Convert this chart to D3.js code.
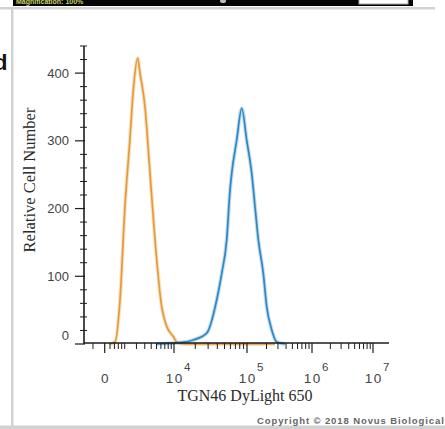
<!DOCTYPE html>
<html>
<head>
<meta charset="utf-8">
<script src="https://cdn.jsdelivr.net/npm/d3@7"></script>
<style>
  html, body { margin: 0; padding: 0; background: #fff; }
  svg { display: block; }
</style>
</head>
<body>
<script>
// isotype control histogram (orange)
var isotypeIntensity = [200, 428, 698, 1012, 1388, 1691, 2133, 2392, 3033, 3795, 4699, 6186, 7544, 9735, 10940, 14000, 270000];
var isotypeCount = [0, 3, 65, 202, 301, 375, 422, 400, 350, 252, 154, 55, 26, 11, 3, 0, 0];

// TGN46 DyLight 650 stained histogram (blue)
var stainedIntensity = [5000, 12000, 18770, 28710, 39240, 45850, 53540, 59290, 62480, 72890, 85030, 99100, 118200, 132900, 149500, 178600, 201500, 240400, 287000, 384000];
var stainedCount = [0, 2, 6, 16, 65, 104, 154, 227, 252, 301, 348, 301, 252, 203, 154, 104, 55, 21, 3, 0];

var yMajorTicks = [0, 100, 200, 300, 400];
var yMinorTicks = d3.range(20, 441, 20).filter(d => d % 100 !== 0);
var xMajorTicks = [0, 1e4, 1e5, 1e6, 1e7];
var xExponents = ["", "4", "5", "6", "7"];
var xMinorTicks = [-500, 200, 400, 600, 800, 1000, 2000, 3000, 4000, 5000, 6000, 7000, 8000, 9000]
  .concat(d3.merge([1e4, 1e5, 1e6].map(p => d3.range(2, 10).map(k => k * p))));

var width = 445, height = 429;

var svg = d3.select("body").append("svg")
  .attr("width", width)
  .attr("height", height)
  .style("background", "#fff");

//// screenshot frame around the figure
svg.append("rect").attr("x", 13).attr("y", 0).attr("width", 400).attr("height", 6).attr("fill", "#050505");
svg.append("text").attr("x", 16).attr("y", 4)
  .attr("font-family", "Arial, 'Liberation Sans', sans-serif").attr("font-size", 7).attr("font-weight", "bold")
  .attr("fill", "#c9d36a").text("Magnification: 100%");
svg.append("ellipse").attr("cx", 223).attr("cy", 1).attr("rx", 3).attr("ry", 2).attr("fill", "#bbb");
svg.append("rect").attr("x", 359).attr("y", -2).attr("width", 49).attr("height", 6)
  .attr("fill", "#fff").attr("stroke", "#aaa");
svg.append("rect").attr("x", 0).attr("y", 7).attr("width", 435).attr("height", 2.5).attr("fill", "#d2d2d2");
svg.append("rect").attr("x", 11).attr("y", 9).attr("width", 2.5).attr("height", 420).attr("fill", "#d2d2d2");
svg.append("rect").attr("x", 0).attr("y", 425.5).attr("width", width).attr("height", 3.5).attr("fill", "#d2d2d2");
svg.append("text").attr("x", -6).attr("y", 70)
  .attr("font-family", "Arial, 'Liberation Sans', sans-serif").attr("font-size", 22).attr("font-weight", "bold")
  .attr("fill", "#111").text("d");

//// scales: biexponential-like x axis (symlog, piecewise per decade)
var x = d3.scaleSymlog()
  .constant(1000)
  .domain(xMajorTicks)
  .range([104.7, 174, 247, 312, 373]);

var y = d3.scaleLinear()
  .domain([0, 440])
  .range([344, 46]);

var axisLeftX = 84, axisRightX = 389, axisY = 343;
var axisColor = "#1c1c1c";
var labelFont = "Arial, 'Liberation Sans', sans-serif";
var titleFont = "'Times New Roman', 'Liberation Serif', serif";

//// histograms
var line = d3.line()
  .x(d => x(d[0]))
  .y(d => y(d[1]))
  .curve(d3.curveMonotoneX);

var series = [
  { color: "#e59b3b", pts: d3.zip(isotypeIntensity, isotypeCount) },
  { color: "#2f87c5", pts: d3.zip(stainedIntensity, stainedCount) },
];

var curves = svg.append("g").attr("class", "curves");
series.forEach(s => {
  curves.append("path")
    .attr("d", line(s.pts))
    .attr("fill", "none")
    .attr("stroke", s.color)
    .attr("stroke-opacity", 0.3)
    .attr("stroke-width", 3.8);
  curves.append("path")
    .attr("d", line(s.pts))
    .attr("fill", "none")
    .attr("stroke", s.color)
    .attr("stroke-width", 1.7)
    .attr("stroke-linejoin", "round");
});

//// y axis
var yAxis = svg.append("g").attr("class", "y-axis");
yAxis.append("line")
  .attr("x1", axisLeftX).attr("x2", axisLeftX)
  .attr("y1", y(440)).attr("y2", y(0))
  .attr("stroke", axisColor).attr("stroke-width", 1.6);

yAxis.selectAll(".major").data(yMajorTicks).join("line")
  .attr("class", "major")
  .attr("x1", axisLeftX - 9).attr("x2", axisLeftX + 1)
  .attr("y1", d => y(d)).attr("y2", d => y(d))
  .attr("stroke", axisColor).attr("stroke-width", 1.2);

yAxis.selectAll(".minor").data(yMinorTicks).join("line")
  .attr("class", "minor")
  .attr("x1", axisLeftX - 4).attr("x2", axisLeftX + 3)
  .attr("y1", d => y(d)).attr("y2", d => y(d))
  .attr("stroke", axisColor).attr("stroke-width", 1);

yAxis.selectAll("text").data(yMajorTicks).join("text")
  .attr("x", axisLeftX - 15)
  .attr("y", d => y(d) + (d === 0 ? -4.5 : 4.6))
  .attr("text-anchor", "end")
  .attr("font-family", labelFont)
  .attr("font-size", 13)
  .attr("fill", "#444")
  .text(d => d);

//// x axis
var xAxis = svg.append("g").attr("class", "x-axis");

xAxis.selectAll(".minor").data(xMinorTicks).join("line")
  .attr("class", "minor")
  .attr("x1", d => x(d)).attr("x2", d => x(d))
  .attr("y1", axisY).attr("y2", axisY + 6)
  .attr("stroke", axisColor).attr("stroke-width", 1);

xAxis.selectAll(".major").data(xMajorTicks).join("line")
  .attr("class", "major")
  .attr("x1", d => x(d)).attr("x2", d => x(d))
  .attr("y1", axisY).attr("y2", axisY + 10)
  .attr("stroke", axisColor).attr("stroke-width", 1.2);

xAxis.append("line")
  .attr("x1", axisLeftX).attr("x2", axisRightX)
  .attr("y1", axisY).attr("y2", axisY)
  .attr("stroke", axisColor).attr("stroke-width", 1.6);

var xLabels = xAxis.selectAll(".tick-label").data(xMajorTicks).join("g")
  .attr("class", "tick-label")
  .attr("transform", d => `translate(${x(d)},383)`);

xLabels.append("text")
  .attr("text-anchor", "middle")
  .attr("font-family", labelFont)
  .attr("font-size", 13.5)
  .attr("letter-spacing", (d, i) => xExponents[i] ? 1.5 : 0)
  .attr("dx", (d, i) => xExponents[i] ? 0.75 : 0)
  .attr("fill", "#444")
  .text((d, i) => xExponents[i] ? "10" : "0");

xLabels.append("text")
  .attr("x", 10)
  .attr("y", -12)
  .attr("font-family", labelFont)
  .attr("font-size", 11.5)
  .attr("fill", "#444")
  .text((d, i) => xExponents[i]);

//// axis titles
svg.append("text")
  .attr("x", 245)
  .attr("y", 401)
  .attr("text-anchor", "middle")
  .attr("font-family", titleFont)
  .attr("font-size", 16)
  .attr("fill", "#2a2a2a")
  .text("TGN46 DyLight 650");

svg.append("text")
  .attr("transform", "translate(35,180) rotate(-90)")
  .attr("text-anchor", "middle")
  .attr("font-family", titleFont)
  .attr("font-size", 16.5)
  .attr("fill", "#2a2a2a")
  .text("Relative Cell Number");

//// watermark
svg.append("text")
  .attr("x", 257)
  .attr("y", 423.5)
  .attr("font-family", "Arial, 'Liberation Sans', sans-serif")
  .attr("font-size", 9.5)
  .attr("font-weight", "bold")
  .attr("letter-spacing", 0.9)
  .attr("fill", "#666")
  .text("Copyright \u00a9 2018 Novus Biologicals");
</script>
</body>
</html>
